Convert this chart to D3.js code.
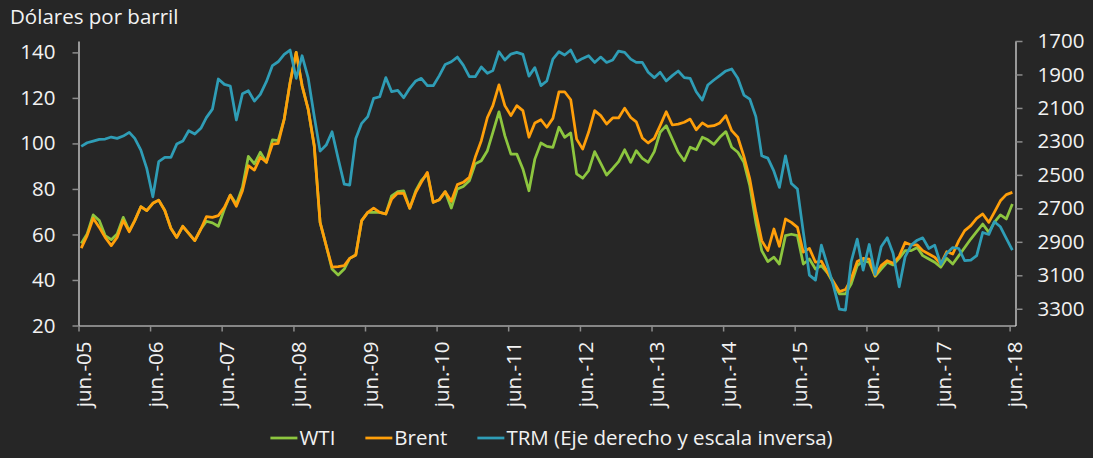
<!DOCTYPE html>
<html>
<head>
<meta charset="utf-8">
<script src="https://cdn.jsdelivr.net/npm/d3@7"></script>
<style>
  html, body { margin: 0; padding: 0; background: #262626; }
  svg { display: block; }
  text { font-family: "Open Sans", sans-serif; fill: #f2f2f2; }
</style>
</head>
<body>
<div id="chart"></div>
<script>
// month-end values, jun-05 .. jun-18
var wti = [56, 60.2, 68.6, 66.1, 59.5, 57.7, 60.2, 67.5, 61.6, 66.1, 72.2, 70.5,
  73.7, 75.1, 70.5, 62.7, 58.7, 63.6, 60.5, 57.3, 62.4, 65.8, 65.1, 63.6,
  71.2, 77.3, 73.4, 80.7, 94.3, 91, 96.1, 91.7, 101.6, 101.2, 110.7, 126.8,
  140, 125.4, 115.1, 99, 65.3, 55.1, 44.8, 42.2, 44.8, 49.5, 51, 66.1,
  69.7, 69.7, 69.7, 69, 77, 78.8, 79.2, 71.5, 79.2, 83.6, 86.6, 74.1,
  75.3, 78.8, 71.6, 80, 81.1, 83.6, 91, 92.4, 96.8, 104.9, 113.9, 103.4,
  95.3, 95.3, 88.8, 79.2, 93.1, 100.2, 98.7, 98.3, 107.1, 102.7, 104.6, 86.6,
  84.7, 88, 96.4, 91.2, 86.1, 89, 92, 97.2, 91.7, 96.8, 93.4, 91.7,
  96.4, 104.9, 107.8, 101.9, 96.1, 92.4, 98.3, 97.2, 102.7, 101.6, 99.6, 102.7,
  105.2, 98.3, 96.1, 91.7, 81.4, 65.3, 52.9, 48.1, 50, 47, 59.5, 60.1,
  59.5, 47, 49.2, 44.8, 46.3, 43.1, 38.7, 33.9, 33.9, 38.2, 46.3, 48.5,
  47.8, 41.6, 44.8, 47.8, 46.6, 49.5, 52.9, 52.9, 54.3, 50.7, 49.2, 47.8,
  45.6, 49.5, 47, 50.7, 54.3, 58, 61.2, 64.6, 60.9, 65.3, 68.6, 66.8,
  73.4];

var brent = [54, 59.5, 67.1, 63.1, 58.7, 55.1, 58.7, 66.1, 61.2, 66.1, 72.2, 70.5,
  73.7, 75.1, 70.5, 62.7, 58.7, 63.6, 60.5, 57.3, 62.4, 67.8, 67.5, 68.3,
  71.9, 77.3, 72.4, 79.2, 90.2, 88.3, 93.9, 91.7, 99.7, 100, 110.7, 126.8,
  140, 125.4, 115.1, 99, 65.3, 55.1, 45.6, 45.9, 46.3, 49.5, 51, 66.1,
  69.7, 71.6, 69.7, 69, 75.6, 78.2, 78.1, 71.5, 78.5, 82.9, 87.3, 74.1,
  75.3, 78.8, 74.6, 81.9, 82.9, 85.1, 93.9, 101.2, 111.4, 116.6, 125.7, 116.6,
  112.2, 116.6, 114.4, 102.7, 109, 110.4, 107.1, 111, 122.7, 122.7, 119.2, 101.9,
  97.5, 104.9, 114.4, 112.2, 108.5, 111.2, 111.2, 115.5, 111.4, 109.5, 102.4, 100.2,
  102.2, 107.8, 113.9, 108.1, 108.5, 109.3, 110.7, 106, 109, 107.5, 107.8, 109,
  112.2, 105.6, 102.7, 94.3, 84.4, 69.7, 57.3, 52.9, 62.4, 54.8, 66.8, 65.3,
  63.1, 52.2, 53.9, 47.8, 48.3, 43.4, 39.3, 34.9, 35.8, 40.4, 48.1, 49.5,
  49.2, 41.9, 46.3, 48.5, 47.3, 50.4, 56.5, 55.4, 55.4, 52.9, 51.4, 50,
  47, 52.4, 51.4, 57.3, 61.7, 63.9, 67.1, 69, 65.3, 69.7, 74.8, 77.5,
  78.5];

var trm = [2330, 2308, 2298, 2288, 2286, 2274, 2282, 2268, 2246, 2282, 2352, 2461,
  2631, 2421, 2396, 2396, 2316, 2298, 2236, 2256, 2222, 2158, 2107, 1927,
  1959, 1969, 2172, 2015, 1997, 2059, 2019, 1943, 1847, 1824, 1780, 1754,
  1923, 1788, 1920, 2150, 2358, 2322, 2242, 2402, 2555, 2561, 2282, 2192,
  2152, 2043, 2033, 1919, 2003, 1995, 2039, 1983, 1939, 1923, 1967, 1967,
  1907, 1840, 1824, 1796, 1844, 1913, 1913, 1855, 1893, 1877, 1764, 1814,
  1778, 1768, 1780, 1910, 1859, 1967, 1939, 1808, 1764, 1784, 1754, 1824,
  1804, 1788, 1828, 1796, 1828, 1814, 1760, 1768, 1808, 1828, 1828, 1887,
  1919, 1887, 1939, 1907, 1879, 1919, 1923, 2003, 2053, 1963, 1933, 1907,
  1879, 1867, 1923, 2023, 2047, 2152, 2386, 2400, 2478, 2575, 2386, 2551,
  2585, 2842, 3099, 3129, 2920, 3039, 3159, 3302, 3308, 3019, 2884, 3069,
  2916, 3095, 2930, 2876, 2970, 3169, 2990, 2920, 2890, 2876, 2940, 2920,
  3035, 2970, 2934, 2940, 3013, 3009, 2983, 2844, 2856, 2780, 2810, 2880,
  2950];

var xTickLabels = ["jun.-05", "jun.-06", "jun.-07", "jun.-08", "jun.-09", "jun.-10", "jun.-11",
  "jun.-12", "jun.-13", "jun.-14", "jun.-15", "jun.-16", "jun.-17", "jun.-18"];
var leftTicks = [20, 40, 60, 80, 100, 120, 140];
var rightTicks = [1700, 1900, 2100, 2300, 2500, 2700, 2900, 3100, 3300];
var seriesNames = ["WTI", "Brent", "TRM (Eje derecho y escala inversa)"];
var colors = ["#8dc63f", "#ff9f0a", "#2f9db6"];

var config = {
  width: 1093,
  height: 458,
  left: 78.5,
  right: 1015.5,
  top: 41,
  bottom: 325.5
};

var svg = d3.select("#chart").append("svg")
  .attr("width", config.width)
  .attr("height", config.height);

svg.append("rect")
  .attr("width", config.width)
  .attr("height", config.height)
  .attr("fill", "#262626");

/* Scales */
var x = d3.scaleTime()
  .domain([new Date(2005, 5, 1), new Date(2018, 6, 1)])
  .range([config.left, config.right]);

var yLeft = d3.scaleLinear().domain([20, 145]).range([config.bottom, config.top]);
var yRight = d3.scaleLinear().domain([1700, 3400]).range([config.top, config.bottom]);

// data points sit mid-month
function dateOf(i) { return new Date(2005, 5 + i, 15); }
var tickDates = xTickLabels.map(function(d, i) { return new Date(2005 + i, 5, 1); });

/* Axes */
var gLeft = svg.append("g")
  .attr("transform", "translate(" + config.left + ",0)")
  .call(d3.axisLeft(yLeft).tickValues(leftTicks).tickSize(6).tickSizeOuter(0).tickPadding(17));

var gRight = svg.append("g")
  .attr("transform", "translate(" + config.right + ",0)")
  .call(d3.axisRight(yRight).tickValues(rightTicks).tickSize(7).tickSizeOuter(0).tickPadding(15)
    .tickFormat(d3.format("d")));

var gBottom = svg.append("g")
  .attr("transform", "translate(0," + config.bottom + ")")
  .call(d3.axisBottom(x).tickValues(tickDates).tickSize(6).tickSizeOuter(0)
    .tickFormat(function(d, i) { return xTickLabels[i]; }));

gBottom.selectAll(".tick text")
  .attr("transform", "rotate(-90)")
  .attr("x", -16)
  .attr("y", 5)
  .attr("dy", "0.35em")
  .style("text-anchor", "end");

[gLeft, gRight, gBottom].forEach(function(g) {
  g.select(".domain").attr("stroke", "#e6e6e6").attr("stroke-width", 1.2);
  g.selectAll(".tick line").attr("stroke", "#8c8c8c").attr("stroke-width", 1.5);
  g.selectAll(".tick text")
    .attr("fill", "#f2f2f2")
    .style("font-family", "'Open Sans', sans-serif")
    .style("font-size", "20.5px");
});

/* Lines */
var lineLeft = d3.line()
  .x(function(d, i) { return x(dateOf(i)); })
  .y(function(d) { return yLeft(d); });
var lineRight = d3.line()
  .x(function(d, i) { return x(dateOf(i)); })
  .y(function(d) { return yRight(d); });

var lines = svg.append("g").attr("class", "lines")
  .attr("fill", "none")
  .attr("stroke-width", 2.75)
  .attr("stroke-linejoin", "round");

lines.append("path").attr("d", lineLeft(wti)).attr("stroke", colors[0]);
lines.append("path").attr("d", lineLeft(brent)).attr("stroke", colors[1]);
lines.append("path").attr("d", lineRight(trm)).attr("stroke", colors[2]);

/* Title */
svg.append("text")
  .attr("x", 10)
  .attr("y", 24)
  .style("font-size", "20.5px")
  .text("Dólares por barril");

/* Legend, centred like the original */
var legend = svg.append("g");
var cursor = 0;
seriesNames.forEach(function(name, i) {
  var item = legend.append("g").attr("transform", "translate(" + cursor + ",0)");
  item.append("line")
    .attr("x1", 0).attr("x2", 27)
    .attr("y1", 438).attr("y2", 438)
    .attr("stroke", colors[i]).attr("stroke-width", 2.75);
  var t = item.append("text")
    .attr("x", 29)
    .attr("y", 438)
    .attr("dy", "0.35em")
    .style("font-size", "20.5px")
    .text(name);
  cursor += 29 + t.node().getComputedTextLength() + 30;
});
var legendWidth = cursor - 30;
legend.attr("transform", "translate(" + (551.5 - legendWidth / 2) + ",0)");
</script>
</body>
</html>
